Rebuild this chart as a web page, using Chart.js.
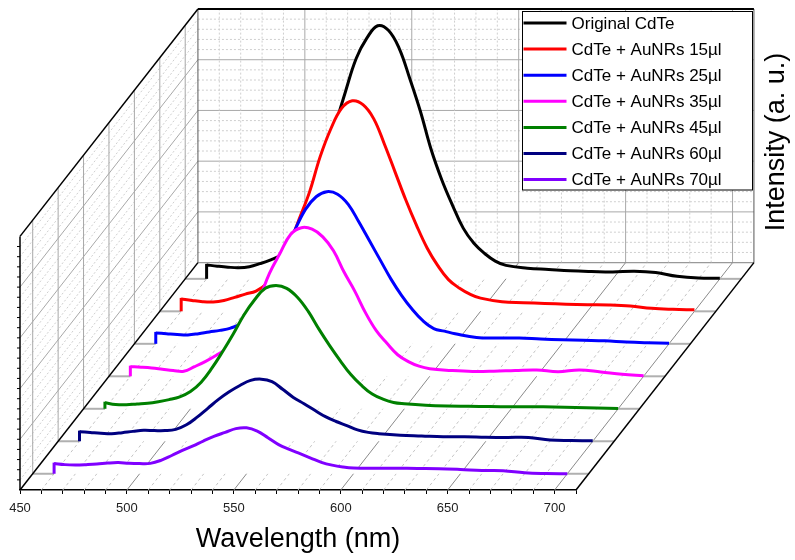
<!DOCTYPE html>
<html>
<head>
<meta charset="utf-8">
<script src="https://cdn.jsdelivr.net/npm/chart.js@4.4.1/dist/chart.umd.min.js"></script>
<style>
  html, body { margin: 0; padding: 0; background: #ffffff; }
  #wrap { width: 795px; height: 560px; }
</style>
</head>
<body>
<div id="wrap"><canvas id="c" width="795" height="560"></canvas></div>
<script>
// ---------------- data ----------------
const wavelengths = [460,465,470,475,480,485,490,495,500,505,510,515,520,525,530,535,540,545,550,555,560,565,570,575,580,585,590,595,600,610,620,630,640,650,660,670,680,690,700];

const seriesLabels = ['Original CdTe','CdTe + AuNRs 15µl','CdTe + AuNRs 25µl','CdTe + AuNRs 35µl','CdTe + AuNRs 45µl','CdTe + AuNRs 60µl','CdTe + AuNRs 70µl'];

const intOriginal = [5.5,5.0,4.6,4.4,4.8,6.0,7.5,9.5,13,20,31,45,60,74,87,95,99.8,98,91,79,66,51,39,29,20,14,10,7,5.3,4.2,3.7,3.2,2.9,2.7,3.0,2.5,1.0,0.3,0.2];
const int15 = [4.9,4.3,3.8,3.7,4.3,5.5,6.8,8,11,17,25,36,47,61,72,80,83,81.5,76,66,55,44,34,25,18,12.5,9.2,6.8,5.2,3.8,3.4,3.1,2.8,2.6,2.5,2.1,1.2,0.8,0.6];
const int25 = [4.3,4.0,3.7,3.5,4.0,4.7,5.3,6.2,8,12,18,26,35,44.7,53,58,60,59,55,48,40.5,33,25.5,19,13.5,9,6,5.0,4.0,2.5,2.3,2.3,1.9,1.6,1.4,1.2,0.7,0.4,0.2];
const int35 = [3.8,3.6,3.3,2.8,2.3,2.0,3.8,5.8,8.2,11,16,22,30,40.5,48.5,56,58.6,58,55,49.5,41,33.5,25,18,13,8.5,5.8,4.0,3.0,2.3,1.9,2.0,2.3,2.5,1.8,2.5,1.7,0.8,0.2];
const int45 = [2.4,1.7,1.6,1.9,2.2,2.8,3.6,4.7,6.8,10.5,16,22.5,29.5,37,43,47.5,48.6,47.5,44,38.5,31.5,25,19,13.5,9.2,5.8,3.8,2.5,2.0,1.4,1.1,1.0,0.9,0.8,0.8,0.7,0.5,0.3,0.1];
const int60 = [3.8,3.5,3.2,3.0,3.4,3.9,4.3,4.2,4.2,4.7,6.5,9.5,13,16.5,19.5,22,24,24.5,23.5,20.5,17.3,14.8,12.2,9.7,7.8,6.2,4.5,3.5,3.0,2.4,2.1,1.8,1.8,1.6,1.5,1.5,0.5,0.3,0.2];
const int70 = [4.0,3.6,3.5,3.6,3.8,4.2,4.4,4.1,4.0,4.1,5.3,7.2,9.2,11,13,14.8,16.3,17.8,18.1,16.8,14.2,11.5,9.6,7.9,6.2,4.5,3.4,2.7,2.3,2.2,2.2,2.1,2.0,1.7,1.3,1.2,0.4,0.1,0.0];

const xTickValues = [450,500,550,600,650,700];

// ---------------- geometry / style ----------------
const WL_MIN = 450, WL_MAX = 710;
const I_MAX = 100, I_MAJOR = 20, I_MINOR = 4;
const SLOTS = 7;
const SKEW_X = 11.886;   // nm of x shift per depth slot
const SKEW_Y = 12.81;    // intensity units of y shift per depth slot
const FONT = "'Liberation Sans', Arial, Helvetica, sans-serif";
const seriesColors = ['#000000','#ff0000','#0000ff','#ff00ff','#008000','#000080','#8000ff'];
const seriesValues = [intOriginal,int15,int25,int35,int45,int60,int70];

const slotOf = i => (SLOTS - 1 - i) + 0.5;   // Original at the back, 70µl at the front

const datasets = seriesValues.map((vals, i) => {
  const d = slotOf(i);
  return {
    label: seriesLabels[i],
    data: wavelengths.map((w, j) => ({ x: w + d * SKEW_X, y: vals[j] + d * SKEW_Y })),
    borderColor: seriesColors[i],
    backgroundColor: '#ffffff',
    borderWidth: 3,
    fill: { value: d * SKEW_Y },
    pointRadius: 0,
    tension: 0.4,
    clip: false,
    order: SLOTS - 1 - i
  };
});

function proj(chart, wl, inten, d) {
  return [chart.scales.x.getPixelForValue(wl + d * SKEW_X),
          chart.scales.y.getPixelForValue(inten + d * SKEW_Y)];
}
function seg(ctx, a, b, color, width, dash) {
  ctx.save();
  ctx.strokeStyle = color; ctx.lineWidth = width;
  ctx.setLineDash(dash || []);
  ctx.beginPath(); ctx.moveTo(a[0], a[1]); ctx.lineTo(b[0], b[1]); ctx.stroke();
  ctx.restore();
}

const boxPlugin = {
  id: 'box3d',
  beforeDatasetsDraw(chart) {
    const ctx = chart.ctx;
    const P = (w, I, d) => proj(chart, w, I, d);
    const MINOR = '#cfcfcf', MAJOR = '#a8a8a8';
    // ---- side wall (wavelength = 450)
    for (let I = I_MINOR; I < I_MAX; I += I_MINOR) {
      const major = I % I_MAJOR === 0;
      seg(ctx, P(WL_MIN, I, 0), P(WL_MIN, I, SLOTS), major ? MAJOR : MINOR, 1, major ? [] : [2, 2]);
    }
    for (let k = 0; k < SLOTS; k++) {
      seg(ctx, P(WL_MIN, 0, k + 0.5), P(WL_MIN, I_MAX, k + 0.5), MAJOR, 1);
    }
    // ---- back wall (depth = SLOTS)
    for (let I = I_MINOR; I < I_MAX; I += I_MINOR) {
      const major = I % I_MAJOR === 0;
      seg(ctx, P(WL_MIN, I, SLOTS), P(WL_MAX, I, SLOTS), major ? MAJOR : MINOR, 1, major ? [] : [2, 2]);
    }
    for (let w = WL_MIN + 10; w < WL_MAX; w += 10) {
      const major = w % 50 === 0;
      seg(ctx, P(w, 0, SLOTS), P(w, I_MAX, SLOTS), major ? MAJOR : MINOR, 1, major ? [] : [2, 2]);
    }
    seg(ctx, P(WL_MIN, 0, SLOTS), P(WL_MAX, 0, SLOTS), '#999999', 1.2);
    // ---- floor (intensity = 0)
    for (let w = WL_MIN + 10; w < WL_MAX; w += 10) {
      const major = w % 50 === 0;
      seg(ctx, P(w, 0, 0), P(w, 0, SLOTS), major ? '#8a8a8a' : '#c4c4c4', 1, major ? [] : [3, 3]);
    }
    const w0 = wavelengths[0], w1 = wavelengths[wavelengths.length - 1];
    for (let k = 0; k < SLOTS; k++) {
      seg(ctx, P(WL_MIN, 0, k + 0.5), P(w0, 0, k + 0.5), '#b0b0b0', 2);
      seg(ctx, P(w1, 0, k + 0.5), P(WL_MAX, 0, k + 0.5), '#b0b0b0', 2);
    }
    // ---- edges
    seg(ctx, P(WL_MIN, 0, SLOTS), P(WL_MIN, I_MAX, SLOTS), '#555555', 1);
    seg(ctx, P(WL_MAX, 0, SLOTS), P(WL_MAX, I_MAX, SLOTS), '#555555', 1);
    seg(ctx, P(WL_MIN, I_MAX, SLOTS), P(WL_MAX, I_MAX, SLOTS), '#000000', 2);
    seg(ctx, P(WL_MIN, I_MAX, 0), P(WL_MIN, I_MAX, SLOTS), '#000000', 1.5);
    seg(ctx, P(WL_MIN, 0, 0), P(WL_MIN, I_MAX, 0), '#000000', 1.5);
    seg(ctx, P(WL_MIN, 0, 0), P(WL_MIN, 0, SLOTS), '#000000', 1.5);
    seg(ctx, P(WL_MAX, 0, 0), P(WL_MAX, 0, SLOTS), '#000000', 1.5);
    for (let I = I_MINOR; I < I_MAX; I += I_MINOR) {
      const p = P(WL_MIN, I, 0);
      seg(ctx, [p[0] - 3, p[1]], [p[0], p[1]], '#000000', 1);
    }
  },
  afterDatasetDraw(chart, args) {
    const i = args.index;
    const d = slotOf(i);
    const a = proj(chart, wavelengths[0], 0, d);
    const b = proj(chart, wavelengths[0], seriesValues[i][0], d);
    seg(chart.ctx, a, [b[0], b[1] - 1], seriesColors[i], 3);
  },
  afterDatasetsDraw(chart) {
    const ctx = chart.ctx;
    // legend
    const L = { x: 522.5, y: 11.5, w: 230, h: 178.5, row: 26.1, first: 23 };
    ctx.save();
    ctx.fillStyle = '#ffffff';
    ctx.fillRect(L.x, L.y, L.w, L.h);
    ctx.strokeStyle = '#000000'; ctx.lineWidth = 1;
    ctx.strokeRect(L.x, L.y, L.w, L.h);
    ctx.font = '17px ' + FONT;
    ctx.textBaseline = 'middle'; ctx.textAlign = 'left';
    seriesLabels.forEach((lab, i) => {
      const y = L.first + i * L.row;
      seg(ctx, [L.x + 1, y], [L.x + 44, y], seriesColors[i], 3);
      ctx.fillStyle = '#000000';
      ctx.fillText(lab, L.x + 49, y + 1);
    });
    // y-axis title
    ctx.translate(777, 142);
    ctx.rotate(-Math.PI / 2);
    ctx.font = '27px ' + FONT;
    ctx.textAlign = 'center'; ctx.textBaseline = 'middle';
    ctx.fillStyle = '#000000';
    ctx.fillText('Intensity (a. u.)', 0, 0);
    ctx.restore();
  }
};

new Chart(document.getElementById('c'), {
  type: 'line',
  data: { datasets },
  options: {
    responsive: false,
    devicePixelRatio: 1,
    animation: false,
    events: [],
    layout: { padding: { left: 20, right: 219, top: 9, bottom: 0 } },
    plugins: { legend: { display: false }, tooltip: { enabled: false } },
    scales: {
      x: {
        type: 'linear',
        bounds: 'data',
        afterDataLimits: s => { s.min = WL_MIN; s.max = WL_MAX; },
        ticks: {
          stepSize: 10, autoSkip: false, maxRotation: 0, minRotation: 0, padding: 7,
          color: '#222222', font: { family: FONT, size: 13 },
          callback: v => xTickValues.includes(v) ? String(v) : ''
        },
        grid: { drawOnChartArea: false, drawTicks: true, tickLength: 4, color: '#000000', lineWidth: 1 },
        border: { color: '#000000', width: 1.5 },
        title: { display: true, text: 'Wavelength (nm)', color: '#000000', font: { family: FONT, size: 27 }, padding: { top: 0, bottom: 4 } }
      },
      y: {
        type: 'linear',
        display: false,
        bounds: 'data',
        afterDataLimits: s => { s.min = 0; s.max = I_MAX + SLOTS * SKEW_Y; }
      }
    }
  },
  plugins: [boxPlugin]
});
</script>
</body>
</html>
